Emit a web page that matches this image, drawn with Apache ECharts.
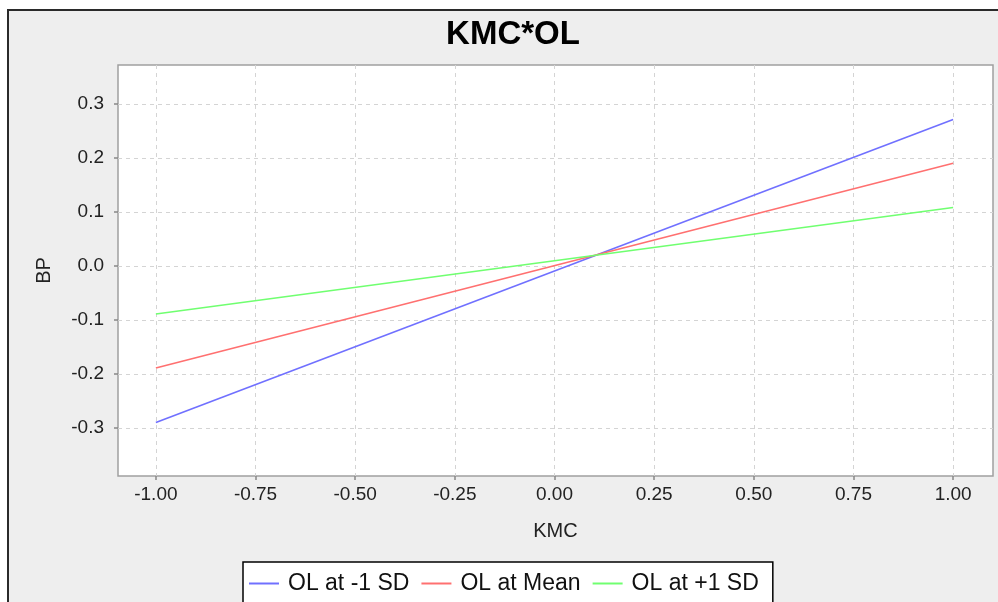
<!DOCTYPE html>
<html>
<head>
<meta charset="utf-8">
<script src="https://cdn.jsdelivr.net/npm/echarts@6/dist/echarts.min.js"></script>
<style>
html,body{margin:0;padding:0;background:#fff;}
#chart{width:998px;height:602px;}
</style>
</head>
<body>
<div id="chart"></div>
<script>
const titleText = 'KMC*OL';
const xName = 'KMC';
const yName = 'BP';
const kmcValues = [-1, 1];
const seriesNames = ['OL at -1 SD', 'OL at Mean', 'OL at +1 SD'];
const lowSD = [-0.290, 0.271];
const meanVals = [-0.189, 0.190];
const highSD = [-0.089, 0.108];
const xTicks = [-1.00, -0.75, -0.50, -0.25, 0.00, 0.25, 0.50, 0.75, 1.00];
const yTicks = [-0.3, -0.2, -0.1, 0.0, 0.1, 0.2, 0.3];
const colors = ['#7070ff', '#ff7070', '#70ff70'];

const font = "'Liberation Sans', Arial, sans-serif";
const chart = echarts.init(document.getElementById('chart'), null, {renderer: 'canvas'});

function pairs(ys) { return kmcValues.map((x, i) => [x, ys[i]]); }

const allSeries = [lowSD, meanVals, highSD].map((ys, i) => ({
  name: seriesNames[i],
  type: 'line',
  data: pairs(ys),
  showSymbol: false,
  symbol: 'none',
  color: colors[i],
  lineStyle: {color: colors[i], width: 1.6},
  animation: false,
  z: 3
}));

const option = {
  animation: false,
  backgroundColor: '#ffffff',
  graphic: [{
    type: 'rect',
    z: -10,
    silent: true,
    shape: {x: 8, y: 10, width: 1100, height: 700},
    style: {fill: '#eeeeee', stroke: '#2a2a2a', lineWidth: 2}
  }],
  title: {
    text: titleText,
    left: 508,
    top: 13,
    textAlign: 'center',
    textStyle: {fontFamily: font, fontWeight: 'bold', fontSize: 33, color: '#000'}
  },
  grid: {
    left: 118, top: 65, right: 5, bottom: 126,
    show: true,
    backgroundColor: '#ffffff',
    borderColor: '#a0a0a0',
    borderWidth: 1.5
  },
  xAxis: {
    type: 'value',
    min: -1.095,
    max: 1.1,
    name: xName,
    nameLocation: 'middle',
    nameGap: 45,
    nameTextStyle: {fontFamily: font, fontSize: 20, color: '#222'},
    axisLine: {show: false, onZero: false},
    axisTick: {show: true, inside: false, length: 4, customValues: xTicks, lineStyle: {color: '#888', width: 1.5}},
    axisLabel: {
      customValues: xTicks,
      margin: 9,
      fontFamily: font, fontSize: 19, color: '#222',
      formatter: v => v.toFixed(2)
    },
    splitLine: {show: true, lineStyle: {color: '#d4d4d4', type: [4, 4], width: 1}}
  },
  yAxis: {
    type: 'value',
    min: -0.389,
    max: 0.372,
    name: yName,
    nameLocation: 'middle',
    nameRotate: 90,
    nameGap: 64,
    nameTextStyle: {fontFamily: font, fontSize: 20, color: '#222'},
    axisLine: {show: false, onZero: false},
    axisTick: {show: true, inside: false, length: 4, customValues: yTicks, lineStyle: {color: '#888', width: 1.5}},
    axisLabel: {
      customValues: yTicks,
      margin: 14,
      fontFamily: font, fontSize: 19, color: '#222',
      formatter: v => v.toFixed(1)
    },
    splitLine: {show: true, lineStyle: {color: '#d4d4d4', type: [4, 4], width: 1}}
  },
  legend: {
    data: seriesNames.map((n, i) => ({name: n, icon: 'rect', itemStyle: {color: colors[i]}})),
    left: 243,
    top: 562,
    orient: 'horizontal',
    itemWidth: 30,
    itemHeight: 2,
    itemGap: 12,
    padding: [10, 14, 30, 6],
    borderColor: '#000000',
    borderWidth: 1.5,
    backgroundColor: '#ffffff',
    textStyle: {fontFamily: font, fontSize: 23, color: '#111', padding: [0, 0, 0, 4]}
  },
  series: allSeries
};
chart.setOption(option);
</script>
</body>
</html>
